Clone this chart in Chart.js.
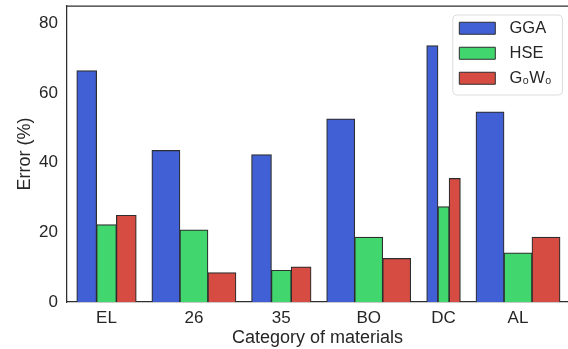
<!DOCTYPE html>
<html>
<head>
<meta charset="utf-8">
<script src="https://cdn.jsdelivr.net/npm/chart.js@4/dist/chart.umd.min.js"></script>
<style>
  html, body { margin: 0; padding: 0; background: #ffffff; }
  #c { display: block; }
</style>
</head>
<body>
<canvas id="c" width="568" height="349"></canvas>
<script>
// Band-gap error per category of materials (%)
const categories = ['EL', '26', '35', 'BO', 'DC', 'AL'];
const seriesNames = ['GGA', 'HSE', 'G\u2080W\u2080'];
const ggaError  = [66.4, 43.5, 42.3, 52.6, 73.6, 54.6];
const hseError  = [22.2, 20.7,  9.1, 18.6, 27.4, 14.1];
const g0w0Error = [24.9,  8.4, 10.1, 12.5, 35.5, 18.6];
const yTicks = [0, 20, 40, 60, 80];

// Layout: group centres on the x axis and bar width (px) of each group
const groupCenters = [0, 1, 2, 3, 3.856, 4.708];
const barWidths = [19.8, 28, 19.8, 28, 11.2, 28];

const seriesValues = [ggaError, hseError, g0w0Error];
const seriesColors = ['#4160d6', '#41d66e', '#d64c42'];
const edgeColor = '#2e2e2e';
const textColor = '#262626';
const fontFamily = '"Liberation Sans", Arial, Helvetica, sans-serif';

// One dataset per (bar width, series); groups of another width are left null
// so that skipNull keeps each group at exactly three side-by-side bars.
const widthClasses = [...new Set(barWidths)];
const datasets = [];
widthClasses.forEach((w, ci) => {
  seriesNames.forEach((name, si) => {
    datasets.push({
      label: name,
      data: groupCenters.map((x, i) => ({ x: x, y: barWidths[i] === w ? seriesValues[si][i] : null })),
      backgroundColor: seriesColors[si],
      borderColor: edgeColor,
      borderWidth: 1.2,
      borderSkipped: 'start',
      barThickness: w,
      skipNull: true,
      inflateAmount: 0.4,
      _firstClass: ci === 0
    });
  });
});

// Legend sits in the upper-right corner of the plot, inside a light frame
const legendPlacement = {
  id: 'legendPlacement',
  afterLayout(chart) {
    const lg = chart.legend, ca = chart.chartArea;
    const w = lg.width, h = lg.height;
    lg.left = ca.right - 117.2;
    lg.right = lg.left + w;
    lg.top = ca.top + 5.5;
    lg.bottom = lg.top + h;
  },
  beforeDraw(chart) {
    const lg = chart.legend, ctx = chart.ctx;
    const x = lg.left + 2, y = lg.top + 3.5, w = 109.6, h = 80, r = 4;
    ctx.save();
    ctx.beginPath();
    ctx.moveTo(x + r, y);
    ctx.arcTo(x + w, y, x + w, y + h, r);
    ctx.arcTo(x + w, y + h, x, y + h, r);
    ctx.arcTo(x, y + h, x, y, r);
    ctx.arcTo(x, y, x + w, y, r);
    ctx.closePath();
    ctx.fillStyle = 'rgba(255,255,255,0.8)';
    ctx.fill();
    ctx.strokeStyle = '#dcdcdc';
    ctx.lineWidth = 1;
    ctx.stroke();
    ctx.restore();
  },
  beforeDatasetsDraw(chart) {
    // top spine of the plot frame
    const ca = chart.chartArea, ctx = chart.ctx;
    ctx.save();
    ctx.strokeStyle = edgeColor;
    ctx.lineWidth = 1.25;
    ctx.beginPath();
    ctx.moveTo(ca.left, ca.top);
    ctx.lineTo(ca.right, ca.top);
    ctx.stroke();
    ctx.restore();
  }
};

new Chart(document.getElementById('c'), {
  type: 'bar',
  data: { datasets: datasets },
  options: {
    responsive: false,
    animation: false,
    devicePixelRatio: 1,
    layout: { padding: { top: 6, right: 0, bottom: 0, left: 0 } },
    plugins: {
      tooltip: { enabled: false },
      legend: {
        position: 'chartArea',
        align: 'start',
        labels: {
          boxWidth: 36,
          boxHeight: 12,
          padding: 8.5,
          color: textColor,
          font: { family: fontFamily, size: 16.5 },
          generateLabels(chart) {
            const items = Chart.defaults.plugins.legend.labels.generateLabels(chart);
            return items
              .filter(it => chart.data.datasets[it.datasetIndex]._firstClass)
              .map(it => Object.assign(it, { text: ' \u200A' + it.text, lineWidth: 1, strokeStyle: edgeColor }));
          }
        }
      }
    },
    scales: {
      x: {
        type: 'linear',
        min: -0.452,
        max: 5.28,
        offset: false,
        grid: { display: false, drawTicks: false },
        border: { display: true, color: edgeColor, width: 1.25 },
        afterBuildTicks(scale) {
          scale.ticks = groupCenters.map(v => ({ value: v }));
        },
        afterFit(scale) {
          scale.height = 47;
          scale.paddingLeft = 0;
          scale.paddingRight = 0;
        },
        ticks: {
          padding: 6,
          color: textColor,
          font: { family: fontFamily, size: 17 },
          maxRotation: 0,
          autoSkip: false,
          callback: (value, index) => categories[index]
        },
        title: {
          display: true,
          text: 'Category of materials',
          color: textColor,
          font: { family: fontFamily, size: 18 },
          padding: { top: 0, bottom: 0 }
        }
      },
      y: {
        min: 0,
        max: 85,
        grid: { display: false, drawTicks: false },
        border: { display: true, color: edgeColor, width: 1.25 },
        afterBuildTicks(scale) {
          scale.ticks = yTicks.map(v => ({ value: v }));
        },
        afterFit(scale) {
          scale.width = 67;
          scale.paddingTop = 0;
          scale.paddingBottom = 0;
        },
        ticks: {
          padding: 9,
          color: textColor,
          font: { family: fontFamily, size: 17 }
        },
        title: {
          display: true,
          text: 'Error (%)',
          color: textColor,
          font: { family: fontFamily, size: 18 },
          padding: { top: 14, bottom: 0 }
        }
      }
    }
  },
  plugins: [legendPlacement]
});
</script>
</body>
</html>
